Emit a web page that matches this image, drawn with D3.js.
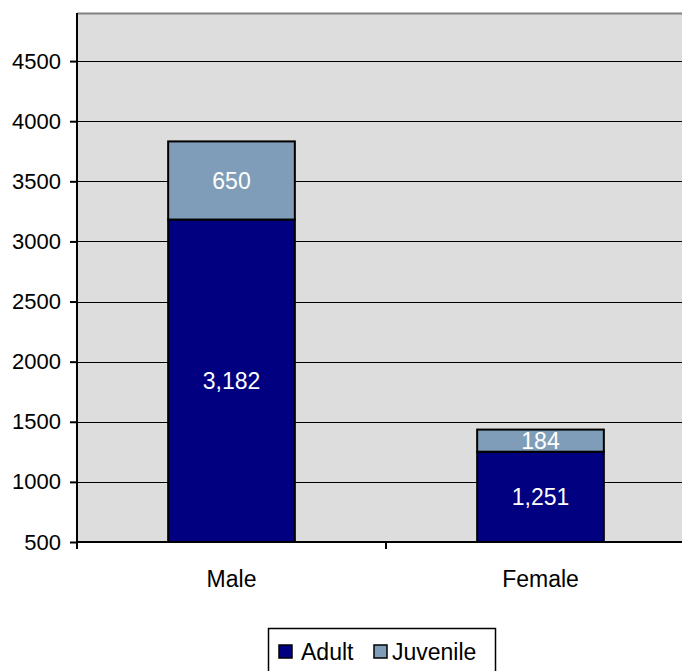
<!DOCTYPE html>
<html>
<head>
<meta charset="utf-8">
<script src="https://cdn.jsdelivr.net/npm/d3@7"></script>
<style>
  html, body { margin: 0; padding: 0; background: #ffffff; }
  svg { display: block; }
  text { font-family: "Liberation Sans", Arial, sans-serif; }
</style>
</head>
<body>
<svg id="chart" width="682" height="671"></svg>
<script>
const categories = ["Male", "Female"];
const seriesNames = ["Adult", "Juvenile"];
const adultValues = [3182, 1251];
const juvenileValues = [650, 184];
const yTicks = [500, 1000, 1500, 2000, 2500, 3000, 3500, 4000, 4500];
const colors = ["#000080", "#7F9DB8"];

const svg = d3.select("#chart");
const pLeft = 77, pRight = 695, pTop = 13, pBottom = 542;
const ff = "'Liberation Sans', Arial, sans-serif";

const x = d3.scaleBand().domain(categories).range([pLeft, pRight]).paddingInner(0.59).paddingOuter(0.295);
const y = d3.scaleLinear().domain([500, 4900]).range([pBottom, pTop]);

// plot background
svg.append("rect").attr("x", pLeft).attr("y", pTop).attr("width", pRight - pLeft).attr("height", pBottom - pTop)
  .attr("fill", "#DDDDDD");
svg.append("line").attr("x1", pLeft).attr("x2", pRight).attr("y1", pTop + 0.5).attr("y2", pTop + 0.5)
  .attr("stroke", "#808080").attr("stroke-width", 2);

// gridlines
svg.append("g").selectAll("line").data(yTicks.slice(1)).join("line")
  .attr("x1", pLeft).attr("x2", pRight)
  .attr("y1", d => Math.round(y(d)) + 0.5).attr("y2", d => Math.round(y(d)) + 0.5)
  .attr("stroke", "#000").attr("stroke-width", 1);

// stacked data
const rows = categories.map((c, i) => ({ cat: c, Adult: adultValues[i], Juvenile: juvenileValues[i] }));
const stack = d3.stack().keys(seriesNames)(rows);

const g = svg.append("g");
stack.forEach((layer, li) => {
  layer.forEach(d => {
    const y0 = li === 0 ? y.domain()[0] : d[0];
    g.append("rect")
      .attr("x", x(d.data.cat))
      .attr("width", x.bandwidth())
      .attr("y", y(d[1]))
      .attr("height", y(y0) - y(d[1]))
      .attr("fill", colors[li])
      .attr("stroke", "#000").attr("stroke-width", 2);
  });
});
stack.forEach((layer, li) => {
  layer.forEach(d => {
    const y0 = li === 0 ? y.domain()[0] : d[0];
    const val = d[1] - d[0];
    g.append("text")
      .attr("x", x(d.data.cat) + x.bandwidth() / 2)
      .attr("y", (y(y0) + y(d[1])) / 2)
      .attr("dy", "0.36em")
      .attr("text-anchor", "middle")
      .attr("fill", "#ffffff")
      .attr("font-size", 23)
      .text(d3.format(",")(val));
  });
});

// y axis
const yAxis = d3.axisLeft(y).tickValues(yTicks).tickSize(7).tickPadding(9).tickFormat(d3.format("d"));
const ya = svg.append("g").attr("transform", `translate(${pLeft},0)`).call(yAxis);
ya.select(".domain").attr("stroke", "#000").attr("stroke-width", 2).attr("d", `M0,${pTop}V${pBottom}`);
ya.selectAll(".tick line").attr("stroke", "#000").attr("stroke-width", 2);
ya.selectAll(".tick text").attr("font-size", 22).attr("fill", "#000").attr("font-family", ff);

// x axis
const xa = svg.append("g").attr("transform", `translate(0,${pBottom})`)
  .call(d3.axisBottom(x).tickSize(0).tickPadding(29));
xa.select(".domain").attr("stroke", "#000").attr("stroke-width", 2).attr("d", `M${pLeft},0H${pRight}`);
xa.selectAll(".tick text").attr("font-size", 23).attr("fill", "#000").attr("font-family", ff);
// category separators
svg.append("g").selectAll("line").data([pLeft, pLeft + (pRight - pLeft) / 2]).join("line")
  .attr("x1", d => d).attr("x2", d => d).attr("y1", pBottom).attr("y2", pBottom + 7)
  .attr("stroke", "#000").attr("stroke-width", 2);

// legend
const lg = svg.append("g");
lg.append("rect").attr("x", 268.5).attr("y", 628.5).attr("width", 227).attr("height", 50)
  .attr("fill", "#fff").attr("stroke", "#000").attr("stroke-width", 1.5);
const items = [{ name: seriesNames[0], sx: 279, tx: 301 }, { name: seriesNames[1], sx: 374, tx: 392 }];
items.forEach((it, i) => {
  lg.append("rect").attr("x", it.sx).attr("y", 645).attr("width", 13).attr("height", 13)
    .attr("fill", colors[i]).attr("stroke", "#000").attr("stroke-width", 1.5);
  lg.append("text").attr("x", it.tx).attr("y", 660).attr("font-size", 23).attr("fill", "#000").text(it.name);
});
</script>
</body>
</html>
